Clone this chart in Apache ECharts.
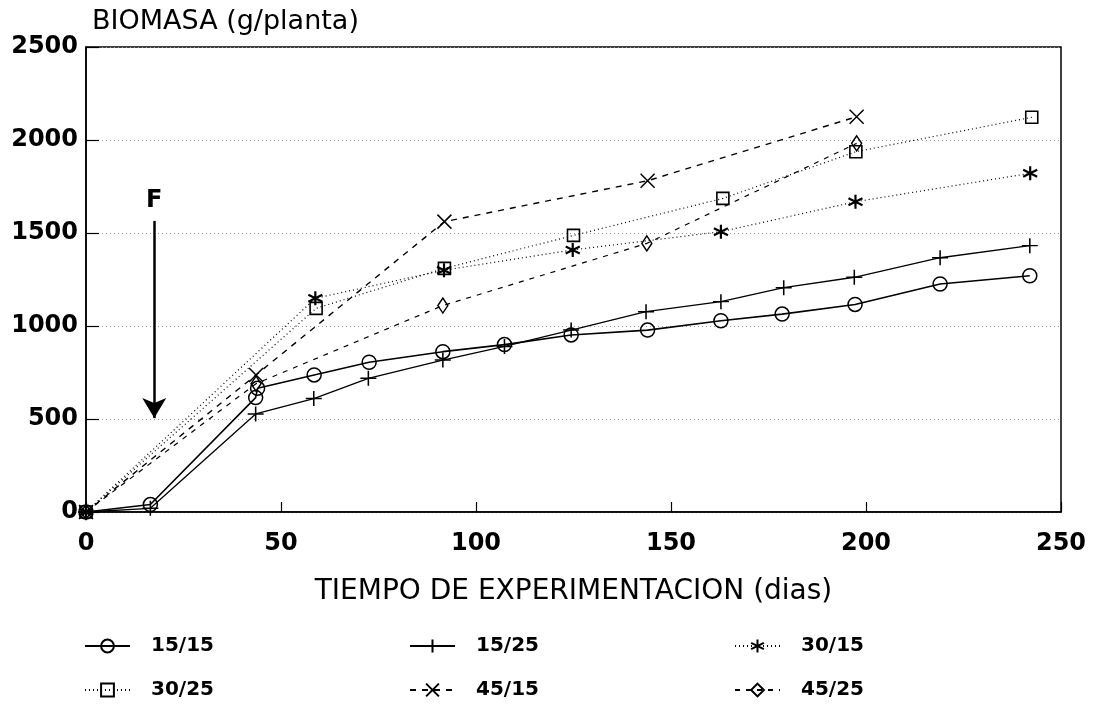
<!DOCTYPE html>
<html>
<head>
<meta charset="utf-8">
<script src="https://cdn.jsdelivr.net/npm/echarts@6/dist/echarts.min.js"></script>
<style>
  html, body { margin: 0; padding: 0; background: #fff; }
  #chart { width: 1096px; height: 704px; }
</style>
</head>
<body>
<div id="chart"></div>
<script>
// datos (dias, g/planta)
var days1515 = [0, 16.5, 43.5, 44, 58.5, 72.6, 91.5, 107.3, 124.4, 144, 162.8, 178.5, 197.2, 219, 242]
var bio1515 = [0, 40, 615, 665, 737, 805, 862, 900, 952, 978, 1028, 1064, 1116, 1226, 1270]

var days1525 = [0, 16.5, 43.5, 58.4, 72.4, 91.5, 107.3, 124.4, 143.6, 162.8, 178.9, 197, 219, 242]
var bio1525 = [0, 20, 527, 610, 719, 817, 890, 978, 1077, 1131, 1206, 1262, 1367, 1432]

var days3015 = [0, 58.8, 91.8, 124.8, 162.8, 197.3, 242.1]
var bio3015 = [0, 1149, 1300, 1409, 1507, 1668, 1821]

var days3025 = [0, 59, 91.9, 125, 163.3, 197.4, 242.5]
var bio3025 = [0, 1095, 1310, 1487, 1686, 1937, 2122]

var days4515 = [0, 43.6, 91.9, 144, 197.6]
var bio4515 = [0, 737, 1561, 1781, 2125]

var days4525 = [0, 43.6, 91.5, 143.8, 197.6]
var bio4525 = [0, 690, 1110, 1444, 1982]

var xTicks = [0, 50, 100, 150, 200, 250]
var yTicks = [0, 500, 1000, 1500, 2000, 2500]

var FONT = 'DejaVu Sans'
var PLUS = 'path://M0,8L16,8M8,0L8,16'
var CROSS = 'path://M0,0L14,14M0,14L14,0'
var STAR = 'path://M7,0L7,14M0.9,3.5L13.1,10.5M0.9,10.5L13.1,3.5'

function pairs (xs, ys) {
  return xs.map(function (x, i) { return [x, ys[i]] })
}

function makeSeries (name, xs, ys, symbol, size, lineType, lineWidth, symbolWidth) {
  return {
    name: name,
    type: 'line',
    data: pairs(xs, ys),
    symbol: symbol,
    symbolSize: size,
    showAllSymbol: true,
    lineStyle: { color: '#000', width: lineWidth, type: lineType },
    itemStyle: { color: 'rgba(0,0,0,0)', borderColor: '#000', borderWidth: symbolWidth },
    emphasis: { disabled: true },
    animation: false
  }
}

var series = [
  makeSeries('15/15', days1515, bio1515, 'circle', 14, 'solid', 1.6, 1.5),
  makeSeries('15/25', days1525, bio1525, PLUS, [16, 15], 'solid', 1.3, 1.5),
  makeSeries('30/15', days3015, bio3015, STAR, 14, [1, 3], 1.2, 2.2),
  makeSeries('30/25', days3025, bio3025, 'rect', 12, [1, 3], 1.2, 1.6),
  makeSeries('45/15', days4515, bio4515, CROSS, 14, [6, 6], 1.4, 1.5),
  makeSeries('45/25', days4525, bio4525, 'diamond', [10, 15], [5, 6], 1.2, 1.5)
]

// flecha F (fertilizacion)
series[0].markLine = {
  silent: true,
  animation: false,
  symbol: ['none', 'arrow'],
  symbolSize: [18, 20],
  lineStyle: { color: '#000', width: 2.5, type: 'solid' },
  label: {
    show: true,
    position: 'start',
    formatter: 'F',
    color: '#000',
    fontFamily: FONT,
    fontWeight: 'bold',
    fontSize: 24,
    distance: 8
  },
  data: [[{ coord: [17.5, 1565] }, { coord: [17.5, 505] }]]
}

function legendCol (left, names) {
  return {
    orient: 'vertical',
    left: left,
    top: 636,
    padding: 0,
    itemWidth: 45,
    itemHeight: 16,
    itemGap: 24,
    selectedMode: false,
    data: names,
    textStyle: { color: '#000', fontFamily: FONT, fontWeight: 'bold', fontSize: 20, padding: [0, 0, 0, 16] }
  }
}

function plain (v) {
  return String(v)
}

var option = {
  backgroundColor: '#fff',
  grid: {
    left: 86, right: 35, top: 47, bottom: 192,
    show: true, borderColor: '#000', borderWidth: 1.5
  },
  legend: [
    legendCol(84, ['15/15', '30/25']),
    legendCol(409, ['15/25', '45/15']),
    legendCol(734, ['30/15', '45/25'])
  ],
  xAxis: {
    type: 'value',
    min: xTicks[0],
    max: xTicks[xTicks.length - 1],
    interval: 50,
    name: 'TIEMPO DE EXPERIMENTACION (dias)',
    nameLocation: 'middle',
    nameGap: 66,
    nameTextStyle: { color: '#000', fontFamily: FONT, fontSize: 28 },
    axisLine: { lineStyle: { color: '#000', width: 1.5 } },
    axisTick: { inside: true, length: 10, lineStyle: { color: '#000', width: 1.2 } },
    axisLabel: { color: '#000', fontFamily: FONT, fontWeight: 'bold', fontSize: 24, margin: 20, formatter: plain },
    splitLine: { show: false }
  },
  yAxis: {
    type: 'value',
    min: yTicks[0],
    max: yTicks[yTicks.length - 1],
    interval: 500,
    name: 'BIOMASA (g/planta)',
    nameLocation: 'end',
    nameGap: 12,
    nameTextStyle: { color: '#000', fontFamily: FONT, fontSize: 27, align: 'left', padding: [0, 0, 0, 6] },
    axisLine: { show: true, lineStyle: { color: '#000', width: 1.5 } },
    axisTick: { show: true, inside: true, length: 13, lineStyle: { color: '#000', width: 1.2 } },
    axisLabel: { color: '#000', fontFamily: FONT, fontWeight: 'bold', fontSize: 24, margin: 8, formatter: plain },
    splitLine: { show: true, lineStyle: { color: '#999', width: 1, type: [1, 3] } }
  },
  series: series
}

var myChart = echarts.init(document.getElementById('chart'))
myChart.setOption(option)
</script>
</body>
</html>
